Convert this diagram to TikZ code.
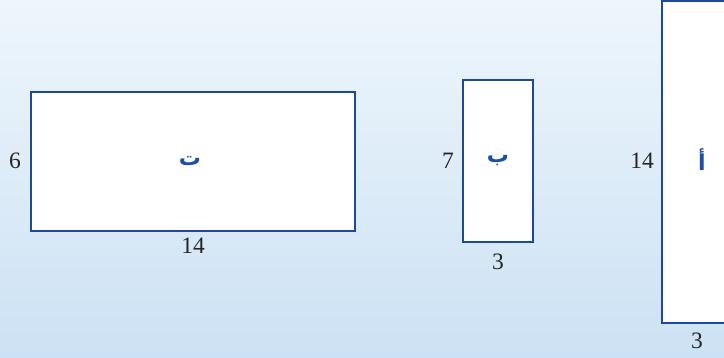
\documentclass[tikz,border=0pt]{standalone}
\usepackage{fontspec}
\setmainfont{Liberation Serif}
\newfontfamily\arabicfont[Script=Arabic]{DejaVu Sans}
\TeXXeTstate=1
\definecolor{bgtop}{HTML}{EEF6FC}
\definecolor{bgbot}{HTML}{CCE1F4}
\definecolor{edge}{HTML}{1B4A9C}
\definecolor{lbl}{HTML}{1B4FA8}
\tikzset{
  shape box/.style={draw=edge, line width=2.8pt, fill=white},
  dimlabel/.style={font=\fontsize{23.5}{26}\selectfont, text=black!85, inner sep=0pt},
  arlabel/.style={font=\arabicfont\bfseries\fontsize{22}{24}\selectfont, text=lbl, inner sep=0pt}
}
\begin{document}
\begin{tikzpicture}[x=1pt,y=-1pt]
\useasboundingbox (0,0) rectangle (724,358);
\clip (0,0) rectangle (724,358);
\shade[top color=bgtop, bottom color=bgbot] (0,0) rectangle (724,358);
% rectangle T
\draw[shape box] (31,92) rectangle (355,231);
\node[arlabel] (lt) at (190,161) {\beginR ت\endR};
\node[dimlabel] (t6) at (15,161) {6};
\node[dimlabel] (t14) at (193,246) {14};
% rectangle B
\draw[shape box] (463,80) rectangle (533,242);
\node[arlabel] (lb) at (498,161) {\beginR ب\endR};
\node[dimlabel] (b7) at (448,161) {7};
\node[dimlabel] (b3) at (498,262) {3};
% rectangle A
\draw[shape box] (662,1) rectangle (732,323);
\node[arlabel] (la) at (702,160) {\beginR أ\endR};
\node[dimlabel] (a14) at (642,161) {14};
\node[dimlabel] (a3) at (697,341) {3};
\end{tikzpicture}
\end{document}
